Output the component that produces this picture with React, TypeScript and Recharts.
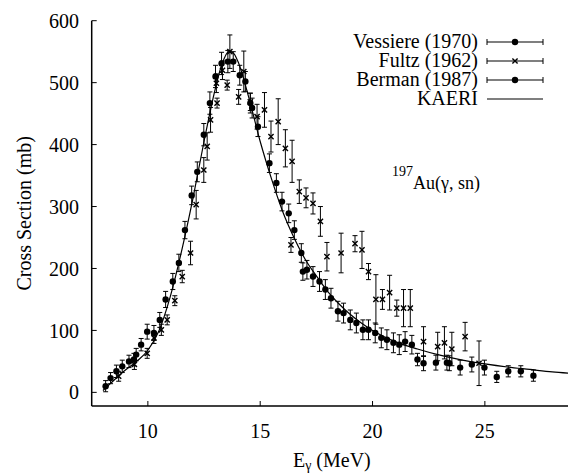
import { ComposedChart, Scatter, Line, XAxis, YAxis, ErrorBar, Legend, Customized } from "recharts"

// Au-197 (gamma, sn) cross section, mb vs photon energy, MeV
const vessiere = [
  { e: 8.12, mb: 10, err: 9 },
  { e: 8.6, mb: 34, err: 10 },
  { e: 9.16, mb: 50, err: 10 },
  { e: 9.48, mb: 61, err: 10 },
  { e: 9.97, mb: 98, err: 12 },
  { e: 10.53, mb: 117, err: 12 },
  { e: 11.11, mb: 179, err: 13 },
  { e: 11.65, mb: 262, err: 14 },
  { e: 12.2, mb: 356, err: 16 },
  { e: 12.76, mb: 467, err: 18 },
  { e: 13.28, mb: 531, err: 18 },
  { e: 13.8, mb: 534, err: 16 },
  { e: 14.34, mb: 502, err: 16 },
  { e: 14.64, mb: 459, err: 16 },
  { e: 15.41, mb: 370, err: 15 },
  { e: 15.97, mb: 308, err: 15 },
  { e: 16.52, mb: 262, err: 15 },
  { e: 16.9, mb: 195, err: 14 },
  { e: 17.35, mb: 187, err: 16 },
  { e: 17.9, mb: 166, err: 16 },
  { e: 18.46, mb: 131, err: 16 },
  { e: 19.01, mb: 117, err: 16 },
  { e: 19.57, mb: 101, err: 16 },
  { e: 20.12, mb: 96, err: 16 },
  { e: 20.64, mb: 85, err: 16 },
  { e: 21.19, mb: 77, err: 16 },
  { e: 21.75, mb: 77, err: 15 },
  { e: 22.27, mb: 47, err: 12 },
  { e: 23.31, mb: 48, err: 12 },
  { e: 23.9, mb: 40, err: 12 },
  { e: 24.98, mb: 40, err: 12 },
  { e: 26.04, mb: 34, err: 9 },
  { e: 27.16, mb: 27, err: 9 },
]

const fultz = [
  { e: 8.7, mb: 26, err: 8 },
  { e: 9.4, mb: 45, err: 8 },
  { e: 9.97, mb: 63, err: 8 },
  { e: 10.27, mb: 88, err: 9 },
  { e: 10.6, mb: 101, err: 9 },
  { e: 10.86, mb: 117, err: 8 },
  { e: 11.2, mb: 148, err: 8 },
  { e: 11.53, mb: 187, err: 10 },
  { e: 11.9, mb: 225, err: 19 },
  { e: 12.15, mb: 303, err: 23 },
  { e: 12.49, mb: 359, err: 20 },
  { e: 12.64, mb: 397, err: 22 },
  { e: 12.79, mb: 440, err: 20 },
  { e: 13.05, mb: 499, err: 15 },
  { e: 13.08, mb: 467, err: 8 },
  { e: 13.32, mb: 520, err: 15 },
  { e: 13.53, mb: 496, err: 8 },
  { e: 13.65, mb: 550, err: 27 },
  { e: 14.04, mb: 477, err: 12 },
  { e: 14.27, mb: 518, err: 33 },
  { e: 14.56, mb: 469, err: 14 },
  { e: 14.86, mb: 445, err: 20 },
  { e: 15.19, mb: 456, err: 28 },
  { e: 15.48, mb: 413, err: 25 },
  { e: 15.8, mb: 437, err: 37 },
  { e: 16.12, mb: 394, err: 30 },
  { e: 16.37, mb: 238, err: 12 },
  { e: 16.42, mb: 373, err: 34 },
  { e: 16.74, mb: 324, err: 19 },
  { e: 17.04, mb: 314, err: 16 },
  { e: 17.35, mb: 305, err: 17 },
  { e: 17.68, mb: 276, err: 24 },
  { e: 17.97, mb: 219, err: 23 },
  { e: 18.6, mb: 225, err: 32 },
  { e: 19.22, mb: 240, err: 13 },
  { e: 19.53, mb: 230, err: 30 },
  { e: 19.82, mb: 195, err: 13 },
  { e: 20.15, mb: 150, err: 40 },
  { e: 20.44, mb: 150, err: 16 },
  { e: 20.76, mb: 161, err: 28 },
  { e: 21.08, mb: 136, err: 13 },
  { e: 21.38, mb: 136, err: 30 },
  { e: 21.68, mb: 136, err: 30 },
  { e: 22.27, mb: 82, err: 24 },
  { e: 22.9, mb: 74, err: 23 },
  { e: 23.2, mb: 80, err: 26 },
  { e: 23.53, mb: 70, err: 27 },
  { e: 24.12, mb: 90, err: 23 },
  { e: 24.74, mb: 47, err: 36 },
]

const berman = [
  { e: 8.34, mb: 23, err: 9 },
  { e: 8.86, mb: 42, err: 10 },
  { e: 9.38, mb: 53, err: 10 },
  { e: 9.7, mb: 77, err: 10 },
  { e: 10.27, mb: 96, err: 12 },
  { e: 10.79, mb: 150, err: 13 },
  { e: 11.38, mb: 209, err: 14 },
  { e: 11.95, mb: 318, err: 15 },
  { e: 12.49, mb: 416, err: 18 },
  { e: 13.01, mb: 510, err: 18 },
  { e: 13.56, mb: 534, err: 18 },
  { e: 14.09, mb: 512, err: 16 },
  { e: 14.56, mb: 467, err: 16 },
  { e: 14.9, mb: 429, err: 16 },
  { e: 15.72, mb: 338, err: 15 },
  { e: 16.27, mb: 289, err: 15 },
  { e: 16.83, mb: 225, err: 15 },
  { e: 17.08, mb: 198, err: 15 },
  { e: 17.64, mb: 179, err: 16 },
  { e: 18.15, mb: 152, err: 16 },
  { e: 18.71, mb: 128, err: 16 },
  { e: 19.28, mb: 112, err: 16 },
  { e: 19.82, mb: 101, err: 16 },
  { e: 20.39, mb: 88, err: 16 },
  { e: 20.93, mb: 80, err: 16 },
  { e: 21.45, mb: 82, err: 16 },
  { e: 22.0, mb: 53, err: 10 },
  { e: 22.82, mb: 48, err: 12 },
  { e: 23.42, mb: 47, err: 12 },
  { e: 24.42, mb: 45, err: 12 },
  { e: 25.53, mb: 25, err: 9 },
  { e: 26.6, mb: 34, err: 9 },
]

const kaeri = [
  { e: 8.0, mb: 3 },
  { e: 8.5, mb: 20 },
  { e: 9.0, mb: 36 },
  { e: 9.5, mb: 50 },
  { e: 10.0, mb: 68 },
  { e: 10.5, mb: 100 },
  { e: 11.0, mb: 155 },
  { e: 11.5, mb: 228 },
  { e: 12.0, mb: 312 },
  { e: 12.5, mb: 405 },
  { e: 13.0, mb: 490 },
  { e: 13.3, mb: 530 },
  { e: 13.6, mb: 550 },
  { e: 13.8, mb: 548 },
  { e: 14.0, mb: 535 },
  { e: 14.5, mb: 475 },
  { e: 15.0, mb: 405 },
  { e: 15.5, mb: 345 },
  { e: 16.0, mb: 292 },
  { e: 16.5, mb: 250 },
  { e: 17.0, mb: 215 },
  { e: 17.5, mb: 188 },
  { e: 18.0, mb: 163 },
  { e: 18.5, mb: 143 },
  { e: 19.0, mb: 126 },
  { e: 19.5, mb: 112 },
  { e: 20.0, mb: 100 },
  { e: 21.0, mb: 82 },
  { e: 22.0, mb: 70 },
  { e: 23.0, mb: 60 },
  { e: 24.0, mb: 52 },
  { e: 25.0, mb: 46 },
  { e: 26.0, mb: 41 },
  { e: 27.0, mb: 37 },
  { e: 28.0, mb: 33 },
  { e: 28.7, mb: 31 },
]

const xTicks = [10, 15, 20, 25]
const yTicks = [0, 100, 200, 300, 400, 500, 600]
const legendNames = ["Vessiere (1970)", "Fultz (1962)", "Berman (1987)", "KAERI"]

const FONT = "Liberation Serif, DejaVu Serif, serif"
const tickStyle = { fill: "#000", fontSize: 20, fontFamily: FONT }

const DotShape = (props: any) => <circle cx={props.cx} cy={props.cy} r={3.2} fill="#000" />

const CrossShape = (props: any) => {
  const { cx, cy } = props
  const s = 2.6
  return (
    <path
      d={`M${cx - s},${cy - s}L${cx + s},${cy + s}M${cx - s},${cy + s}L${cx + s},${cy - s}`}
      stroke="#000"
      strokeWidth={1.4}
      fill="none"
    />
  )
}

const YTitle = (props: any) => {
  const vb = props.viewBox || { y: 20.7, height: 385.3 }
  const x = 31
  const y = vb.y + vb.height / 2
  return (
    <text x={x} y={y} transform={`rotate(-90, ${x}, ${y})`} textAnchor="middle" fontSize={20} fontFamily={FONT} fill="#000">
      Cross Section (mb)
    </text>
  )
}

const XTitle = (props: any) => {
  const vb = props.viewBox || { x: 91.7, width: 476.3 }
  return (
    <text x={vb.x + vb.width / 2 + 2} y={467} textAnchor="middle" fontSize={20} fontFamily={FONT} fill="#000">
      E
      <tspan fontSize={14} dy={3}>γ</tspan>
      <tspan dy={-3}> (MeV)</tspan>
    </text>
  )
}

const LegendBox = () => (
  <svg width={268} height={84} style={{ overflow: "visible" }}>
    {legendNames.map((name, i) => {
      const cy = 14 + i * 19
      return (
        <g key={name}>
          <text x={178} y={cy + 6} textAnchor="end" fontSize={20} fontFamily={FONT} fill="#000">
            {name}
          </text>
          <line x1={187} x2={243} y1={cy} y2={cy} stroke="#000" strokeWidth={1.2} />
          {i < 3 && (
            <>
              <line x1={187} x2={187} y1={cy - 3} y2={cy + 3} stroke="#000" />
              <line x1={243} x2={243} y1={cy - 3} y2={cy + 3} stroke="#000" />
              {i === 1 ? <CrossShape cx={215} cy={cy} /> : <DotShape cx={215} cy={cy} />}
            </>
          )}
        </g>
      )
    })}
  </svg>
)

const Annotation = () => (
  <text x={392} y={189} fontSize={18} fontFamily={FONT} fill="#000">
    <tspan fontSize={14} dy={-13}>197</tspan>
    <tspan dy={13}>Au(γ, sn)</tspan>
  </text>
)

export default function App() {
  return (
    <div style={{ position: "absolute", left: 0, top: 0, width: 568, height: 475, background: "#fff", fontFamily: FONT }}>
      <ComposedChart width={568} height={475} margin={{ top: 20.7, right: 0, bottom: 0, left: 0 }}>
        <XAxis
          dataKey="e"
          type="number"
          domain={[7.5, 28.7]}
          allowDataOverflow
          ticks={xTicks}
          height={69}
          tickSize={-5}
          tickMargin={22.3}
          tick={tickStyle}
          stroke="#000"
          axisLine={{ stroke: "#000", strokeWidth: 1.5 }}
          label={<XTitle />}
        />
        <XAxis
          xAxisId="top"
          orientation="top"
          dataKey="e"
          type="number"
          domain={[7.5, 28.7]}
          allowDataOverflow
          ticks={xTicks}
          height={0}
          tickSize={-5}
          tickFormatter={() => ""}
          stroke="#000"
          axisLine={{ stroke: "#000", strokeWidth: 1.5 }}
        />
        <YAxis
          dataKey="mb"
          type="number"
          domain={[-22, 600]}
          allowDataOverflow
          ticks={yTicks}
          width={91.7}
          tickSize={-5}
          tickMargin={17.7}
          tick={tickStyle}
          stroke="#000"
          axisLine={{ stroke: "#000", strokeWidth: 1.5 }}
          label={<YTitle />}
        />
        <Legend
          layout="vertical"
          align="center"
          verticalAlign="middle"
          wrapperStyle={{ left: 300, top: 28, width: 268, height: 84 }}
          content={() => <LegendBox />}
        />
        <Scatter name="Vessiere (1970)" data={vessiere} dataKey="mb" shape={DotShape} isAnimationActive={false}>
          <ErrorBar dataKey="err" direction="y" width={2.5} stroke="#000" strokeWidth={1} />
        </Scatter>
        <Scatter name="Fultz (1962)" data={fultz} dataKey="mb" shape={CrossShape} isAnimationActive={false}>
          <ErrorBar dataKey="err" direction="y" width={2.5} stroke="#000" strokeWidth={1} />
        </Scatter>
        <Scatter name="Berman (1987)" data={berman} dataKey="mb" shape={DotShape} isAnimationActive={false}>
          <ErrorBar dataKey="err" direction="y" width={2.5} stroke="#000" strokeWidth={1} />
        </Scatter>
        <Line
          name="KAERI"
          data={kaeri}
          dataKey="mb"
          type="monotone"
          stroke="#000"
          strokeWidth={1.2}
          dot={false}
          activeDot={false}
          isAnimationActive={false}
        />
        <Customized component={Annotation} />
      </ComposedChart>
    </div>
  )
}
